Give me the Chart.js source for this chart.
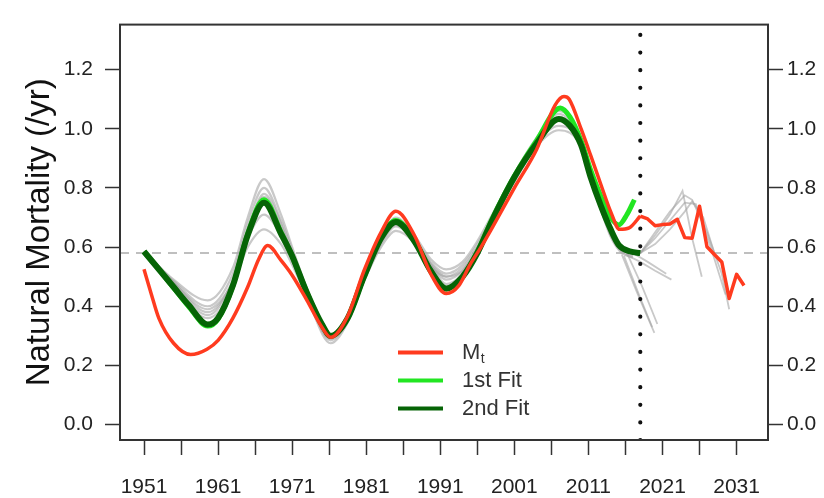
<!DOCTYPE html>
<html><head><meta charset="utf-8">
<script src="https://cdn.jsdelivr.net/npm/chart.js@4.4.1/dist/chart.umd.min.js"></script>
<style>html,body{margin:0;padding:0;background:#fff;}#wrap{width:824px;height:498px;}</style>
</head><body><div id="wrap"><canvas id="c" width="824" height="498"></canvas></div>
<script>
// ---------- DATA ----------
const xTickYears = [1951,1956,1961,1966,1971,1976,1981,1986,1991,1996,2001,2006,2011,2016,2021,2026,2031];
const xTickLabels = ['1951','','1961','','1971','','1981','','1991','','2001','','2011','','2021','','2031'];
const yTickValues = [0,0.2,0.4,0.6,0.8,1.0,1.2];
const yTickLabels = ['0.0','0.2','0.4','0.6','0.8','1.0','1.2'];
const yTitle = 'Natural Mortality (/yr)';
const xMin = 1947.76, xMax = 2035.24, yMin = -0.052, yMax = 1.352;
const refLevel = 0.58;      // horizontal dashed reference
const splitYear = 2018;     // vertical dotted line

// M_t (red) – historical smooth part
const mtYears = [1951,1952,1953,1955,1957.3,1959.5,1961,1963,1965,1966.5,1967.7,1969.5,1971,1973,1975,1976.2,1978.5,1980.7,1983,1985,1987.5,1989.7,1991.8,1993.5,1995,1996.5,1998,2001,2004,2006.5,2007.7,2008.4,2010,2011.3,2012.7,2014,2015.2,2016.5,2018];
const mtValues = [0.525,0.44,0.36,0.275,0.237,0.255,0.285,0.36,0.465,0.56,0.605,0.555,0.505,0.42,0.33,0.295,0.367,0.52,0.65,0.721,0.64,0.51,0.443,0.47,0.54,0.60,0.665,0.80,0.93,1.08,1.109,1.10,1.00,0.91,0.81,0.72,0.66,0.665,0.705];
// M_t (red) – projection part
const mtProjYears = [2018,2019,2020,2021,2022,2023,2024,2025,2026,2027,2028,2029,2030,2031,2032];
const mtProjValues = [0.705,0.695,0.672,0.676,0.678,0.694,0.632,0.63,0.738,0.601,0.575,0.55,0.426,0.508,0.47];

// 2nd Fit (dark green)
const fit2Years = [1951,1953,1955,1957,1959.6,1961,1963,1965,1967.2,1969.5,1971,1973,1975,1976.2,1978.5,1980.7,1983,1985,1987.5,1989.7,1991.8,1994,1996,1998,2001,2004,2007,2008.5,2010,2011.3,2012.7,2014,2015.1,2016.7,2018];
const fit2Values = [0.585,0.525,0.465,0.405,0.338,0.36,0.47,0.64,0.75,0.645,0.57,0.445,0.34,0.30,0.36,0.50,0.63,0.685,0.62,0.52,0.46,0.50,0.58,0.69,0.836,0.95,1.033,1.01,0.945,0.836,0.738,0.66,0.607,0.585,0.58];

// 1st Fit (bright green)
const fit1Years = [1951,1953,1955,1957,1959.6,1961,1963,1965,1967.2,1969.5,1971,1973,1975,1976.2,1978.5,1980.7,1983,1985,1987.5,1989.7,1991.8,1994,1996,1998,2001,2004,2007.2,2008.5,2010,2011.3,2012.7,2014,2015.1,2016.2,2017.2];
const fit1Values = [0.585,0.525,0.462,0.40,0.333,0.357,0.47,0.645,0.76,0.65,0.57,0.445,0.34,0.30,0.36,0.50,0.635,0.69,0.625,0.52,0.458,0.50,0.585,0.695,0.84,0.96,1.07,1.04,0.96,0.86,0.77,0.70,0.675,0.71,0.76];

// Gray retrospective fits
const grayYears = [1951,1955,1959.6,1963,1965,1967.2,1969.5,1971,1973,1976.2,1978.5,1980.7,1983,1985,1987.5,1989.7,1991.8,1994,1996,1998,2001,2004,2007,2010,2011.3,2012.7,2014,2015.5,2017];
const grayA = [0.585,0.49,0.42,0.53,0.70,0.83,0.71,0.60,0.46,0.305,0.37,0.50,0.63,0.70,0.64,0.56,0.525,0.55,0.62,0.71,0.85,0.97,1.06,0.97,0.86,0.75,0.66,0.60,0.58];
const grayB = [0.585,0.485,0.40,0.51,0.68,0.80,0.69,0.59,0.455,0.30,0.365,0.50,0.625,0.69,0.63,0.55,0.51,0.54,0.61,0.70,0.84,0.96,1.05,0.96,0.85,0.74,0.65,0.595,0.575];
const grayC = [0.585,0.48,0.38,0.49,0.66,0.77,0.67,0.58,0.45,0.295,0.36,0.495,0.62,0.68,0.625,0.545,0.50,0.53,0.60,0.695,0.83,0.955,1.04,0.955,0.845,0.735,0.645,0.59,0.58];
const grayD = [0.585,0.475,0.37,0.48,0.63,0.71,0.64,0.56,0.44,0.285,0.35,0.49,0.61,0.67,0.62,0.54,0.49,0.52,0.595,0.69,0.825,0.95,1.01,0.95,0.84,0.73,0.64,0.585,0.57];
const grayE = [0.585,0.48,0.39,0.48,0.60,0.66,0.61,0.54,0.43,0.275,0.345,0.485,0.60,0.655,0.615,0.535,0.50,0.52,0.59,0.685,0.82,0.94,0.995,0.94,0.835,0.725,0.635,0.58,0.565];
const grayF = [0.585,0.47,0.36,0.47,0.65,0.78,0.68,0.57,0.44,0.29,0.355,0.49,0.615,0.675,0.62,0.54,0.475,0.51,0.595,0.69,0.83,0.955,1.03,0.96,0.85,0.74,0.645,0.59,0.585];

// Gray projection lines
const proj1Years = [2018,2020,2022,2024,2025,2027,2029,2030];
const proj1 = [0.58,0.65,0.72,0.775,0.76,0.65,0.51,0.39];
const proj2Years = [2018,2020,2022,2023.7,2025,2026.3];
const proj2 = [0.58,0.64,0.71,0.79,0.63,0.50];
const proj3Years = [2018,2020,2022,2024,2025.5,2027.5,2029.5];
const proj3 = [0.58,0.63,0.69,0.75,0.745,0.60,0.44];
const proj4Years = [2018,2020,2022,2024,2025,2026.5,2028];
const proj4 = [0.58,0.61,0.66,0.72,0.755,0.70,0.58];
const proj5Years = [2016,2018,2020,2022.2];
const proj5 = [0.575,0.55,0.52,0.49];
const proj6Years = [2017,2019,2021.5];
const proj6 = [0.58,0.55,0.51];
const proj7Years = [2015.5,2017.5,2019.9];
const proj7 = [0.575,0.45,0.31];
const proj8Years = [2015.8,2017.8,2019.6];
const proj8 = [0.57,0.44,0.33];
const proj9Years = [2016.2,2018.2,2020.3];
const proj9 = [0.58,0.47,0.34];

// ---------- BUILD ----------
const pts = (xs, ys) => xs.map((x, i) => ({x: x, y: ys[i]}));
const FONT = "'Liberation Sans', Arial, Helvetica, sans-serif";
const RED = '#ff3b1f', GREEN = '#22e622', DGREEN = '#066406', GRAY = 'rgba(165,165,165,0.6)';

const datasets = [];
datasets.push({label:'split', data: pts([splitYear, splitYear], [yMin, yMax]), borderColor:'#111', borderWidth:4.2,
  borderDash:[0.01,17.6], borderCapStyle:'round', pointRadius:0, order:0, tension:0});
datasets.push({label:'Mt', data: pts(mtYears, mtValues), borderColor:RED, borderWidth:3.5, pointRadius:0,
  cubicInterpolationMode:'monotone', order:1});
datasets.push({label:'Mt proj', data: pts(mtProjYears, mtProjValues), borderColor:RED, borderWidth:3.5, pointRadius:0,
  tension:0, borderJoinStyle:'round', order:1});
datasets.push({label:'2nd Fit', data: pts(fit2Years, fit2Values), borderColor:DGREEN, borderWidth:6, pointRadius:0,
  cubicInterpolationMode:'monotone', order:2});
datasets.push({label:'1st Fit', data: pts(fit1Years, fit1Values), borderColor:GREEN, borderWidth:5, pointRadius:0,
  cubicInterpolationMode:'monotone', order:3});
datasets.push({label:'ref', data: pts([xMin, xMax], [refLevel, refLevel]), borderColor:'#aaaaaa', borderWidth:1.6,
  borderDash:[9,7], pointRadius:0, order:4, tension:0});
[grayA, grayB, grayC, grayD, grayE, grayF].forEach((g, i) => {
  datasets.push({label:'gray'+i, data: pts(grayYears, g), borderColor:GRAY, borderWidth:2.2, pointRadius:0,
    cubicInterpolationMode:'monotone', order:5});
});
[[proj1Years,proj1],[proj2Years,proj2],[proj3Years,proj3],[proj4Years,proj4],[proj5Years,proj5],
 [proj6Years,proj6],[proj7Years,proj7],[proj8Years,proj8],[proj9Years,proj9]].forEach((p, i) => {
  datasets.push({label:'proj'+i, data: pts(p[0], p[1]), borderColor:GRAY, borderWidth:1.8, pointRadius:0,
    tension:0, order:5});
});

const legendItems = [
  {label:'M', sub:'t', color:RED},
  {label:'1st Fit', color:GREEN},
  {label:'2nd Fit', color:DGREEN}
];

const boxPlugin = {
  id:'box',
  afterDraw(chart){
    const {ctx, chartArea:a} = chart;
    ctx.save();
    ctx.strokeStyle = '#333';
    ctx.lineWidth = 2;
    ctx.strokeRect(a.left, a.top, a.right - a.left, a.bottom - a.top);
    ctx.restore();
  }
};
const legendPlugin = {
  id:'innerLegend',
  afterDraw(chart){
    const {ctx, chartArea:a} = chart;
    const x0 = a.left + 278, x1 = a.left + 323, tx = a.left + 342;
    const y0 = a.top + 328, dy = 28;
    ctx.save();
    legendItems.forEach((it, i) => {
      const y = y0 + i * dy;
      ctx.strokeStyle = it.color; ctx.lineWidth = 4; ctx.lineCap = 'butt';
      ctx.beginPath(); ctx.moveTo(x0, y); ctx.lineTo(x1, y); ctx.stroke();
      ctx.fillStyle = '#333'; ctx.textBaseline = 'middle'; ctx.textAlign = 'left';
      ctx.font = '22px ' + FONT;
      ctx.fillText(it.label, tx, y);
      if (it.sub) {
        const w = ctx.measureText(it.label).width;
        ctx.font = '14px ' + FONT;
        ctx.fillText(it.sub, tx + w + 0.5, y + 7);
      }
    });
    ctx.restore();
  }
};

const findLabel = (vals, labels, v) => {
  const i = vals.findIndex(t => Math.abs(t - v) < 1e-6);
  return i >= 0 ? labels[i] : '';
};
const yAxisCommon = {
  type:'linear', min:yMin, max:yMax,
  afterBuildTicks: s => { s.ticks = yTickValues.map(v => ({value:v})); },
  grid:{drawOnChartArea:false, drawTicks:true, tickLength:15, tickColor:'#333', tickWidth:1.5},
  border:{display:false}
};

new Chart(document.getElementById('c'), {
  type:'line',
  data:{datasets},
  options:{
    responsive:false, animation:false, devicePixelRatio:1,
    layout:{padding:{top:12, bottom:0, left:0, right:0}},
    plugins:{legend:{display:false}, tooltip:{enabled:false}},
    scales:{
      x:{type:'linear', min:xMin, max:xMax,
        afterBuildTicks: s => { s.ticks = xTickYears.map(v => ({value:v})); },
        ticks:{callback:(v) => findLabel(xTickYears, xTickLabels, v), autoSkip:false, maxRotation:0,
          font:{family:FONT, size:21}, color:'#222', padding:20},
        grid:{drawOnChartArea:false, drawTicks:true, tickLength:15, tickColor:'#333', tickWidth:1.5},
        border:{display:false},
        afterFit: s => { s.height = 58; }
      },
      y:Object.assign({}, yAxisCommon, {position:'left',
        ticks:{callback:(v) => findLabel(yTickValues, yTickLabels, v), font:{family:FONT, size:21}, color:'#222', padding:12},
        title:{display:true, text:yTitle, font:{family:FONT, size:33}, color:'#111', padding:{top:20, bottom:0}},
        afterFit: s => { s.width = 120; }
      }),
      y2:Object.assign({}, yAxisCommon, {position:'right',
        ticks:{callback:(v) => findLabel(yTickValues, yTickLabels, v), font:{family:FONT, size:21}, color:'#222', padding:4},
        afterFit: s => { s.width = 56; }
      })
    }
  },
  plugins:[boxPlugin, legendPlugin]
});
</script></body></html>
